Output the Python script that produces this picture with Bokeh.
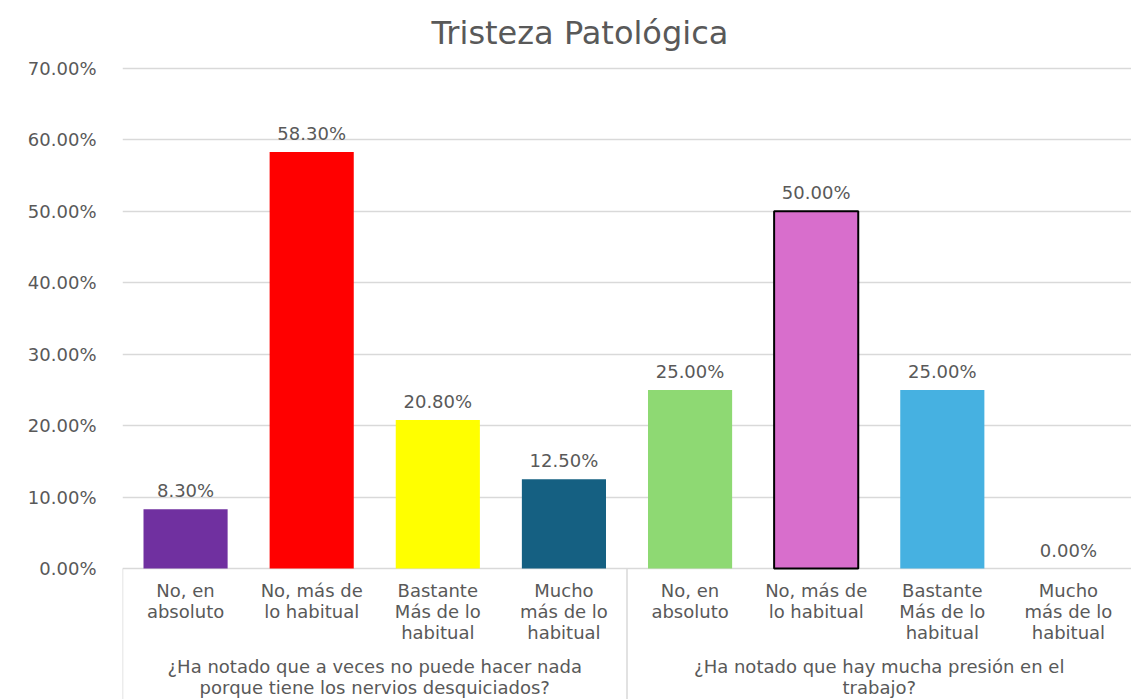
from bokeh.plotting import figure
from bokeh.models import FactorRange, Range1d, FixedTicker, PrintfTickFormatter, ColumnDataSource
from bokeh.core.properties import value
from bokeh.embed import file_html
from bokeh.resources import INLINE

# ---------------- data ----------------
chart_title = "Tristeza Patológica"
groups = [
    "¿Ha notado que a veces no puede hacer nada\nporque tiene los nervios desquiciados?",
    "¿Ha notado que hay mucha presión en el\ntrabajo?",
]
categories = [
    "No, en\nabsoluto",
    "No, más de\nlo habitual",
    "Bastante\nMás de lo\nhabitual",
    "Mucho\nmás de lo\nhabitual",
]
values_group1 = [8.3, 58.3, 20.8, 12.5]
values_group2 = [25.0, 50.0, 25.0, 0.0]
colors_group1 = ["#7030A0", "#FF0000", "#FFFF00", "#156082"]
colors_group2 = ["#8ED973", "#D86ECC", "#46B1E1", "#A02B93"]
outlined_group1 = [False, False, False, False]
outlined_group2 = [False, True, False, False]
y_ticks = [0, 10, 20, 30, 40, 50, 60, 70]

# ---------------- build ----------------
FONT = "DejaVu Sans"
TXT = "#595959"
GRID = "#D9D9D9"

Y_TOP = 70.28
Y_BOTTOM = -18.34

factors = [(g, c) for g in groups for c in categories]
vals = values_group1 + values_group2
cols = colors_group1 + colors_group2
outl = outlined_group1 + outlined_group2

src = ColumnDataSource(dict(
    x=factors,
    top=vals,
    color=cols,
    line_alpha=[1.0 if o else 0.0 for o in outl],
    label=[f"{v:.2f}%" for v in vals],
    cat=[c for g in groups for c in categories],
))

p = figure(
    width=1131, height=699,
    x_range=FactorRange(*factors, factor_padding=0, group_padding=0, subgroup_padding=0, range_padding=0),
    y_range=Range1d(Y_BOTTOM, Y_TOP),
    output_backend="svg", toolbar_location=None,
    x_axis_location=None,
    min_border_left=122, min_border_right=0, min_border_top=66, min_border_bottom=0,
)
p.outline_line_color = None
p.background_fill_color = "white"
p.border_fill_color = "white"

p.title.text = chart_title
p.title.align = "left"
p.title.offset = 309
p.title.text_font = FONT
p.title.text_font_size = "32px"
p.title.text_font_style = "normal"
p.title.text_color = TXT
p.title.vertical_align = "top"
p.title.standoff = 25

# y axis
ya = p.yaxis[0]
ya.ticker = FixedTicker(ticks=y_ticks)
ya.formatter = PrintfTickFormatter(format="%.2f%%")
ya.axis_line_color = None
ya.major_tick_line_color = None
ya.minor_tick_line_color = None
ya.major_tick_out = 0
ya.major_tick_in = 0
ya.major_label_standoff = 26
ya.major_label_text_font = FONT
ya.major_label_text_font_size = "18px"
ya.major_label_text_color = TXT

p.xgrid.visible = False
p.ygrid.ticker = FixedTicker(ticks=y_ticks)
p.ygrid.grid_line_color = GRID
p.ygrid.grid_line_width = 1.5

# bars
p.vbar(x="x", top="top", bottom=0, width=0.667, source=src,
       fill_color="color", line_color="black", line_alpha="line_alpha", line_width=2)

# value labels
p.text(x="x", y="top", text="label", source=src, text_align="center", text_baseline="bottom",
       y_offset=-8, text_font=value(FONT), text_font_size="18px", text_color=TXT)

# category labels
p.text(x="x", y=0, text="cat", source=src, text_align="center", text_baseline="top",
       y_offset=11, text_font=value(FONT), text_font_size="18px", text_color=TXT,
       text_line_height=1.0)

# group labels
gsrc = ColumnDataSource(dict(x=groups, text=groups))
p.text(x="x", y=0, text="text", source=gsrc, text_align="center", text_baseline="top",
       y_offset=87, text_font=value(FONT), text_font_size="18px", text_color=TXT,
       text_line_height=1.0)

# separators of the category axis box
bounds = [i * len(categories) for i in range(len(groups))]
p.segment(x0=bounds, x1=bounds, y0=[0] * len(bounds), y1=[Y_BOTTOM] * len(bounds),
          line_color=GRID, line_width=1.5)

open("out.html", "w").write(file_html(p, INLINE))
